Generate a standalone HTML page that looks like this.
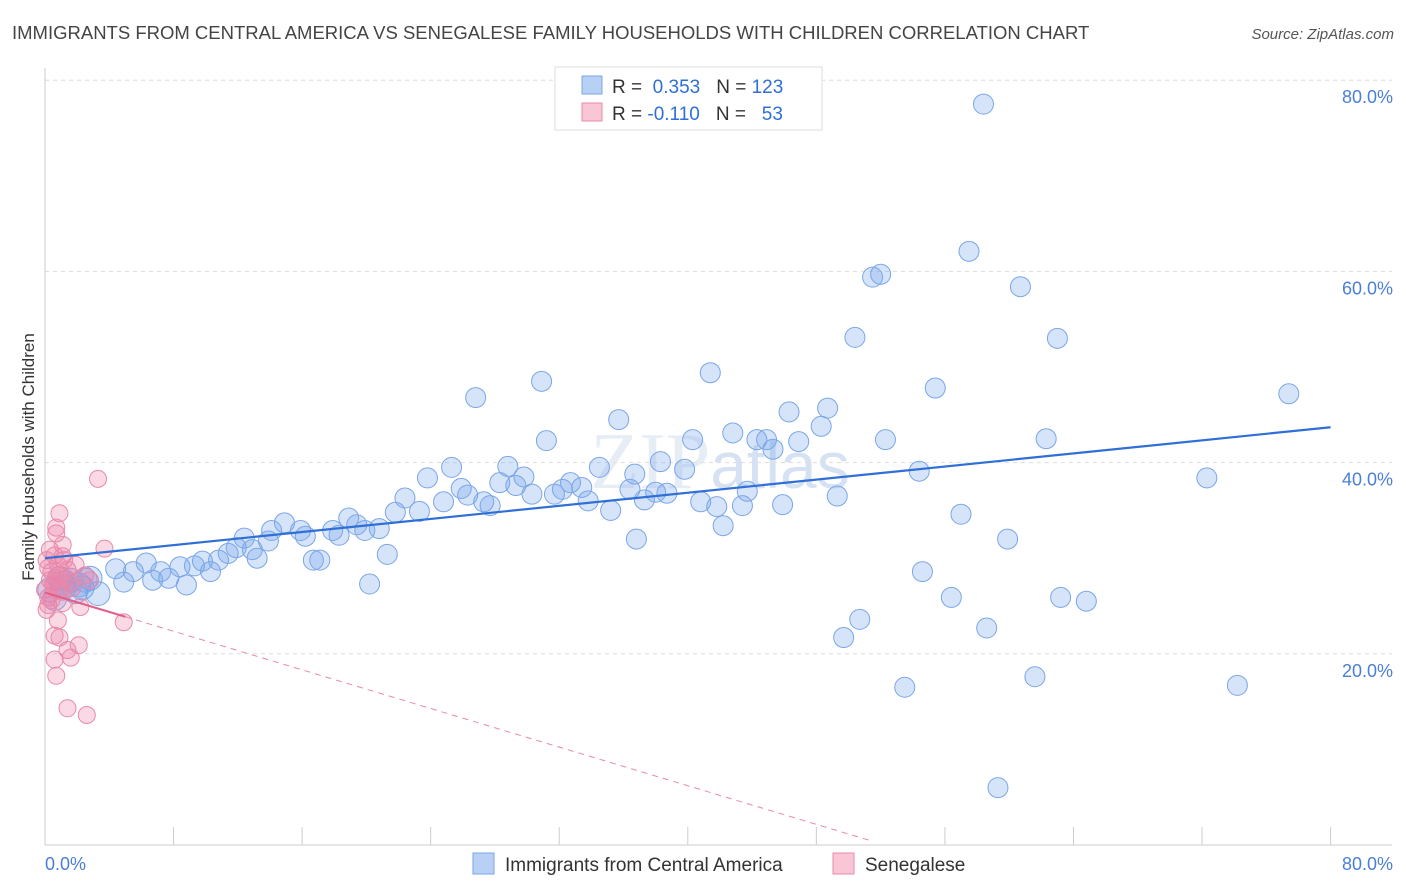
<!DOCTYPE html>
<html><head><meta charset="utf-8"><style>
body{margin:0;background:#fff;font-family:"Liberation Sans",sans-serif;}
svg{display:block}
</style></head><body>
<svg id="chart" width="1406" height="892" xmlns="http://www.w3.org/2000/svg">
<text x="12" y="39" font-size="18.5" fill="#444">IMMIGRANTS FROM CENTRAL AMERICA VS SENEGALESE FAMILY HOUSEHOLDS WITH CHILDREN CORRELATION CHART</text>
<text x="1394" y="39" font-size="15" fill="#555" text-anchor="end" font-style="italic">Source: ZipAtlas.com</text>
<text x="720" y="488" font-size="80" fill="#d8e2f0" text-anchor="middle" font-family="Liberation Serif" opacity="0.6">ZIP<tspan font-family="Liberation Sans" font-size="66" fill="#bcd0ee">atlas</tspan></text>
<g id="grid"></g><g id="axes"></g><g id="pts"></g><g id="trend"></g>
<text transform="translate(34,457) rotate(-90)" font-size="17" fill="#333" text-anchor="middle">Family Households with Children</text>
<g>
<rect x="555" y="67" width="267" height="63" fill="#fff" stroke="#ddd"/>
<rect x="582" y="76" width="20" height="18" fill="#b8d0f4" stroke="#7aa6e8"/>
<rect x="582" y="103" width="20" height="18" fill="#f9c6d6" stroke="#e88aa8"/>
<text x="612" y="93" font-size="19" fill="#333">R = <tspan fill="#2f6fd6">&#160;0.353</tspan><tspan dx="16">N = </tspan><tspan fill="#2f6fd6">123</tspan></text>
<text x="612" y="120" font-size="19" fill="#333">R = <tspan fill="#2f6fd6">-0.110</tspan><tspan dx="16">N = </tspan><tspan fill="#2f6fd6">&#160;&#160;53</tspan></text>
</g>
<g>
<rect x="473" y="853" width="21" height="21" fill="#b8d0f4" stroke="#7aa6e8"/>
<text x="505" y="871" font-size="19" fill="#333">Immigrants from Central America</text>
<rect x="833" y="853" width="21" height="21" fill="#f9c6d6" stroke="#e88aa8"/>
<text x="865" y="871" font-size="19" fill="#333">Senegalese</text>
</g>
</svg>
<script>
const blueX=[58.4,57.5,52.0,51.5,60.7,50.4,63.0,41.4,30.9,55.4,26.8,77.4,46.3,48.7,35.7,48.3,31.2,40.3,42.8,44.3,44.9,45.3,46.9,52.3,62.3,25.3,28.8,38.3,36.7,34.5,39.8,54.4,72.3,23.8,29.8,32.7,22.4,25.9,26.3,28.3,29.3,30.3,31.7,32.2,33.4,36.4,38.0,38.7,37.3,40.8,43.7,49.3,24.8,27.3,27.7,33.8,35.2,41.8,43.4,45.9,21.8,23.3,18.9,19.4,20.8,19.9,14.9,14.1,15.9,16.2,17.9,18.3,12.4,13.9,11.4,11.9,12.9,13.2,57.0,42.2,59.9,36.8,21.3,16.7,17.1,9.8,10.8,6.3,4.4,5.5,8.4,7.2,9.3,4.9,6.7,7.7,8.8,10.3,54.6,20.2,56.4,63.2,64.8,50.7,49.7,58.6,53.5,61.6,74.2,59.3,0.9,1.2,1.6,2.1,2.5,2.8,0.6,3.3,1.9,0.3,1.1,2.3];
const blueY=[77.5,62.1,59.7,59.4,58.4,53.1,53.0,49.4,48.5,47.8,46.8,47.2,45.3,45.7,44.5,43.8,42.3,42.4,43.1,42.4,42.4,41.4,42.2,42.4,42.5,39.5,39.6,40.1,38.8,39.5,39.3,39.1,38.4,38.4,38.5,37.9,36.3,37.3,36.6,37.9,37.6,36.7,36.7,37.2,37.4,37.2,36.9,36.8,36.1,35.9,37.0,36.5,35.9,35.9,35.5,36.0,35.0,35.4,35.5,35.6,34.8,34.9,34.2,33.5,33.1,32.9,33.7,32.9,32.9,32.3,32.9,32.4,32.1,31.8,30.5,31.1,30.9,30.0,34.6,33.4,32.0,32.0,30.4,29.8,29.8,29.7,29.8,29.5,28.9,28.6,29.1,28.6,29.2,27.5,27.7,27.9,27.2,28.6,28.6,27.3,25.9,25.9,25.5,23.6,21.7,22.7,16.5,17.6,16.7,6.0,27.9,27.0,27.7,27.2,27.7,27.9,25.8,26.3,26.5,26.7,27.4,26.9];
const pinkX=[3.3,0.9,0.7,0.7,3.7,0.3,0.6,1.1,1.2,0.8,0.4,0.2,0.9,1.3,1.6,0.5,0.8,0.2,1.1,2.2,0.1,0.2,4.9,0.6,0.9,2.1,1.4,1.6,0.6,0.7,1.4,2.6,1.1,1.7,2.5,2.8,0.3,0.0,0.4,0.7,1.4,1.9,1.1,0.1,0.6,0.8];
const pinkY=[38.3,34.7,33.2,32.6,31.0,30.9,30.3,30.2,29.8,29.3,28.6,29.0,28.2,27.9,27.5,27.2,26.7,25.9,25.3,24.9,24.6,25.1,23.3,21.9,21.7,20.9,20.4,19.6,19.4,17.7,14.3,13.6,26.5,26.9,28.2,27.7,27.7,26.7,25.6,27.9,28.8,29.3,31.4,29.8,27.4,23.5];
const yTicks=[20,40,60,80];
const xTicks=[0,8,16,24,32,40,48,56,64,72,80];
const blueTrend=[30.0,43.7];
const pinkTrend=[26.4,-0.505];
const NS='http://www.w3.org/2000/svg';
const sx=v=>45+v*16.07, sy=v=>845-v*9.56;
function mk(t,a,p){const e=document.createElementNS(NS,t);for(const k in a)e.setAttribute(k,a[k]);p.appendChild(e);return e;}
const grid=document.getElementById('grid'),axes=document.getElementById('axes'),pts=document.getElementById('pts'),tr=document.getElementById('trend');
yTicks.forEach(t=>{const l=mk('line',{x1:45,x2:1392,y1:sy(t),y2:sy(t),stroke:'#ddd','stroke-dasharray':'4,4'},grid);


const tx=mk('text',{x:1393,y:sy(t)+23,'font-size':18,fill:'#4a7fd6','text-anchor':'end'},axes);tx.textContent=t.toFixed(1)+'%';

});
const ax=mk('line',{x1:45,x2:45,y1:68,y2:845,stroke:'#ccc'},axes);


const bx=mk('line',{x1:45,x2:1392,y1:845,y2:845,stroke:'#ccc'},axes);


xTicks.forEach(t=>{const l=mk('line',{x1:sx(t),x2:sx(t),y1:827,y2:845,stroke:'#ccc'},axes);

});
[[0,45,'start'],[80,1393,'end']].forEach(([v,x,a])=>{const tx=mk('text',{x:x,y:870,'font-size':18,fill:'#4a7fd6','text-anchor':a},axes);tx.textContent=v.toFixed(1)+'%';

});
blueX.forEach((x,i)=>{const r=(x<3.5)?12:10;const c=mk('circle',{cx:sx(x),cy:sy(blueY[i]),r:r,fill:'rgba(120,165,235,0.3)',stroke:'#7aa6e8','stroke-width':1},pts);

});
pinkX.forEach((x,i)=>{const c=mk('circle',{cx:sx(x),cy:sy(pinkY[i]),r:8.5,fill:'rgba(240,130,170,0.3)',stroke:'#e88aa8','stroke-width':1},pts);

});
const bl=mk('line',{x1:sx(0),y1:sy(blueTrend[0]),x2:sx(80),y2:sy(blueTrend[1]),stroke:'#2f6fd6','stroke-width':2.2},tr);


const pf=x=>pinkTrend[0]+pinkTrend[1]*x;
const pd=mk('line',{x1:sx(5),y1:sy(pf(5)),x2:sx(51.5),y2:sy(pf(51.5)),stroke:'#e88aa8','stroke-width':1,'stroke-dasharray':'6,5'},tr);


const ps=mk('line',{x1:sx(0),y1:sy(pf(0)),x2:sx(5),y2:sy(pf(5)),stroke:'#e0608a','stroke-width':2.2},tr);


</script>
</body></html>
